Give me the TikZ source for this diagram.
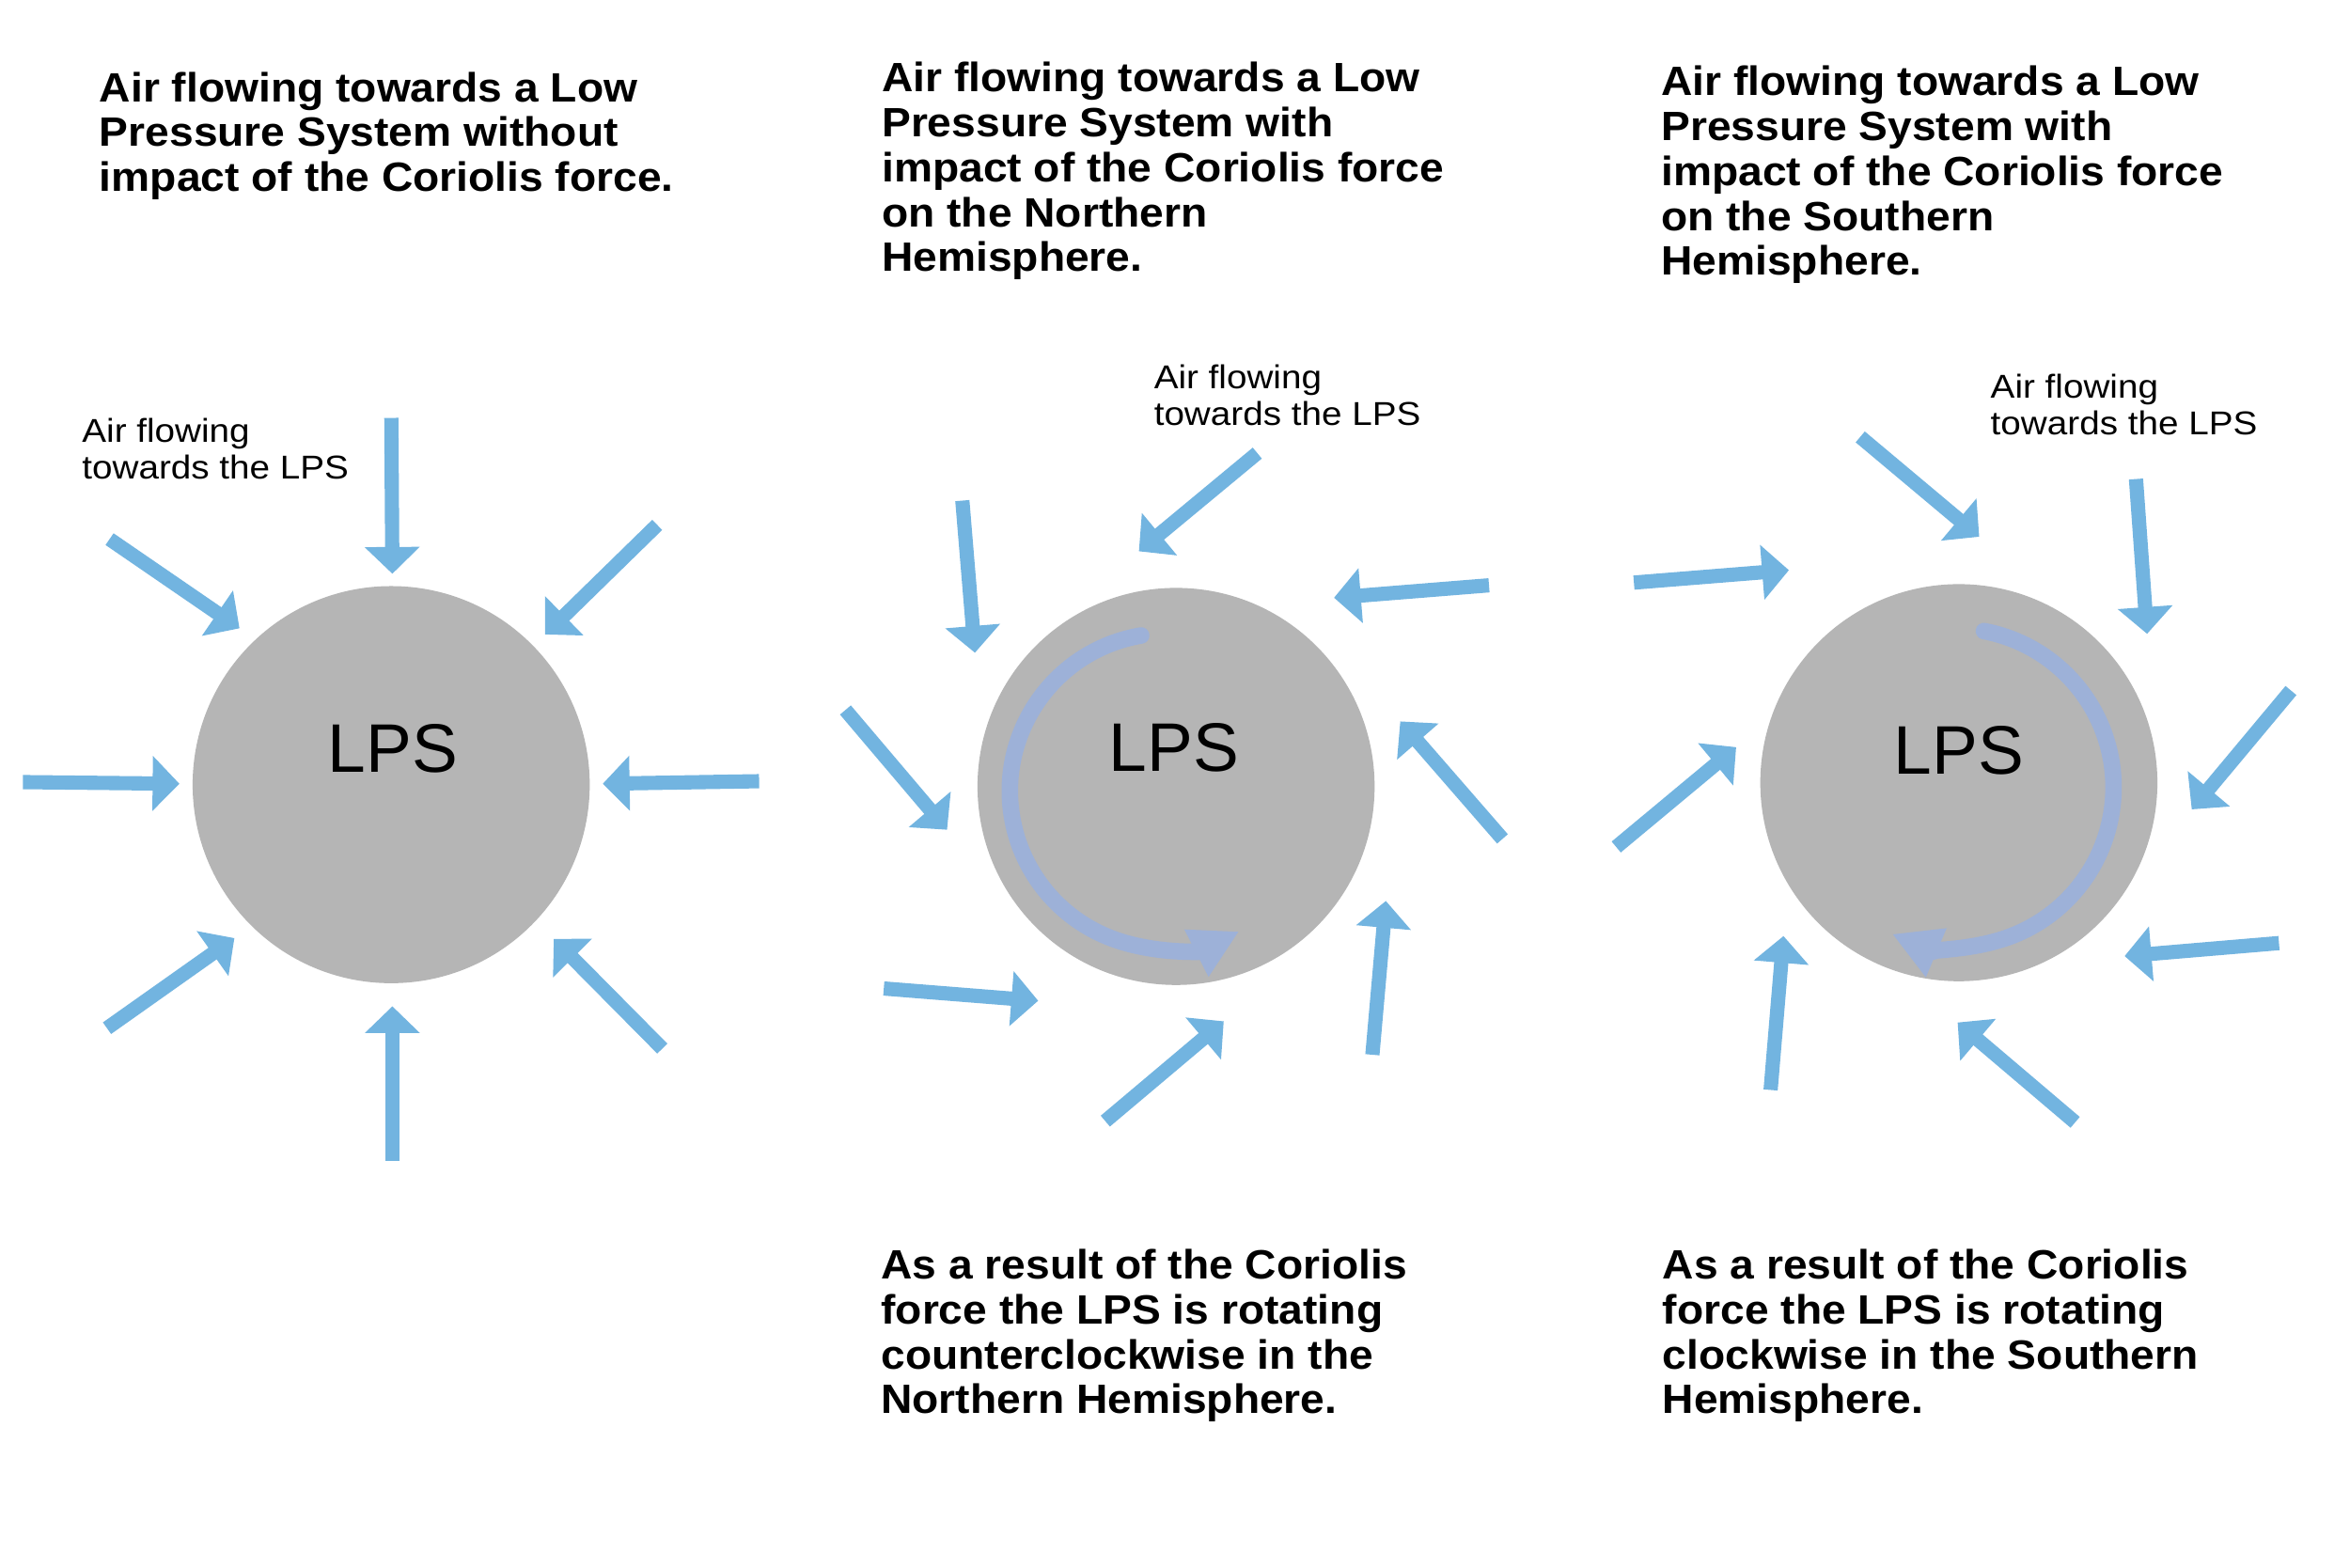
\documentclass[tikz,border=0pt]{standalone}
\usepackage{fontspec}
\setmainfont{Liberation Sans}
\newfontfamily\widefont{Liberation Sans}[FakeStretch=1.1]
\newfontfamily\titlefont{Liberation Sans}[FakeStretch=1.06]
\usetikzlibrary{arrows.meta}
\definecolor{flowblue}{RGB}{114,180,224}
\definecolor{lpsgrey}{RGB}{181,181,181}
\definecolor{spinblue}{RGB}{157,177,216}
\newcommand\flowarrow[3]{%
  \coordinate (#1s) at (#2);
  \coordinate (#1e) at (#3);
  \draw[flow] (#1s) -- (#1e);}
\begin{document}
\begin{tikzpicture}[x=0.015944cm, y=-0.015944cm,
  flow/.style={draw=flowblue, line width=4.3pt, -{Triangle[width=16.2pt,length=8.1pt]}},
  spin/.style={draw=spinblue, line width=5pt, line cap=round, -{Triangle[width=15pt,length=14.5pt]}},
  disk/.style={circle, fill=lpsgrey, inner sep=0pt, minimum size=120.2pt},
  titletext/.style={anchor=north west, inner sep=0pt, align=left,
    font=\titlefont\bfseries\fontsize{12.4}{13.6}\selectfont},
  flowlabel/.style={anchor=north west, inner sep=0pt, align=left,
    font=\widefont\fontsize{10}{11.1}\selectfont},
  lpstext/.style={anchor=base, inner sep=0pt, font=\fontsize{20.8}{24}\selectfont}]
\fill[white] (0,0) rectangle (1568,1045.6);
\useasboundingbox (0,0) rectangle (1568,1045.6);

% circles
\node[disk] (c1) at (261,523.5) {};
\node[disk] (c2) at (784.7,524.7) {};
\node[disk] (c3) at (1307,522.2) {};

% rotation arrows
\coordinate (o2) at (779,527.7);
\coordinate (o3) at (1304,525.4);
\draw[spin] ([shift={(-99.6:105.2)}]o2) arc[start angle=-99.6, end angle=-297, radius=105.2];
\draw[spin] ([shift={(-79.3:106.2)}]o3) arc[start angle=-79.3, end angle=113, radius=106.2];

% LPS texts
\node[lpstext] (l1) at (262,515.4) {LPS};
\node[lpstext] (l2) at (783.4,514.7) {LPS};
\node[lpstext] (l3) at (1307,516.5) {LPS};

% titles
\node[titletext] (t1) at (66,47.5) {Air flowing towards a Low\\Pressure System without\\impact of the Coriolis force.};
\node[titletext] (t2) at (588,41) {Air flowing towards a Low\\Pressure System with\\impact of the Coriolis force\\on the Northern\\Hemisphere.};
\node[titletext] (t3) at (1108,43.5) {Air flowing towards a Low\\Pressure System with\\impact of the Coriolis force\\on the Southern\\Hemisphere.};
\node[titletext] (r2) at (587.5,833) {As a result of the Coriolis\\force the LPS is rotating\\counterclockwise in the\\Northern Hemisphere.};
\node[titletext] (r3) at (1109,833) {As a result of the Coriolis\\force the LPS is rotating\\clockwise in the Southern\\Hemisphere.};

% flow labels
\node[flowlabel] (f1) at (54.4,278.7) {Air flowing\\towards the LPS};
\node[flowlabel] (f2) at (769.6,243) {Air flowing\\towards the LPS};
\node[flowlabel] (f3) at (1327.8,249) {Air flowing\\towards the LPS};

% panel 1 arrows
\flowarrow{a1}{261.1,278.8}{261.8,382.8}
\flowarrow{a2}{438.5,350.2}{363.7,423.3}
\flowarrow{a3}{506.5,521.2}{402.2,522.9}
\flowarrow{a4}{441.9,699.6}{369.5,626.5}
\flowarrow{a5}{261.8,774.4}{261.8,671.4}
\flowarrow{a6}{71.4,686}{156.4,625.9}
\flowarrow{a7}{15.3,521.8}{119.7,522.9}
\flowarrow{a8}{73.1,359.7}{159.8,419.2}

% panel 2 arrows
\flowarrow{b1}{642.1,334}{650.5,435.5}
\flowarrow{b2}{564.1,473.7}{631.9,553.6}
\flowarrow{b3}{589.7,659.5}{692.7,667.7}
\flowarrow{b4}{737.5,748}{816.5,681.4}
\flowarrow{b5}{915.7,703.7}{924.7,601.1}
\flowarrow{b6}{1002.5,559.7}{934.3,481.3}
\flowarrow{b7}{993.5,390.5}{890.1,398.8}
\flowarrow{b8}{838.9,302.3}{759.9,367.8}

% panel 3 arrows
\flowarrow{d1}{1241.2,291.5}{1320.6,358.1}
\flowarrow{d2}{1090.2,388.7}{1193.6,380.4}
\flowarrow{d3}{1078.4,565.1}{1158.4,498.5}
\flowarrow{d4}{1181.4,727.2}{1190.0,624.5}
\flowarrow{d5}{1384.6,748.8}{1306.2,682.2}
\flowarrow{d6}{1520.6,629.2}{1417.6,637.9}
\flowarrow{d7}{1528.6,460.7}{1462.4,540}
\flowarrow{d8}{1425.2,319.6}{1432.6,422.9}
\end{tikzpicture}
\end{document}
